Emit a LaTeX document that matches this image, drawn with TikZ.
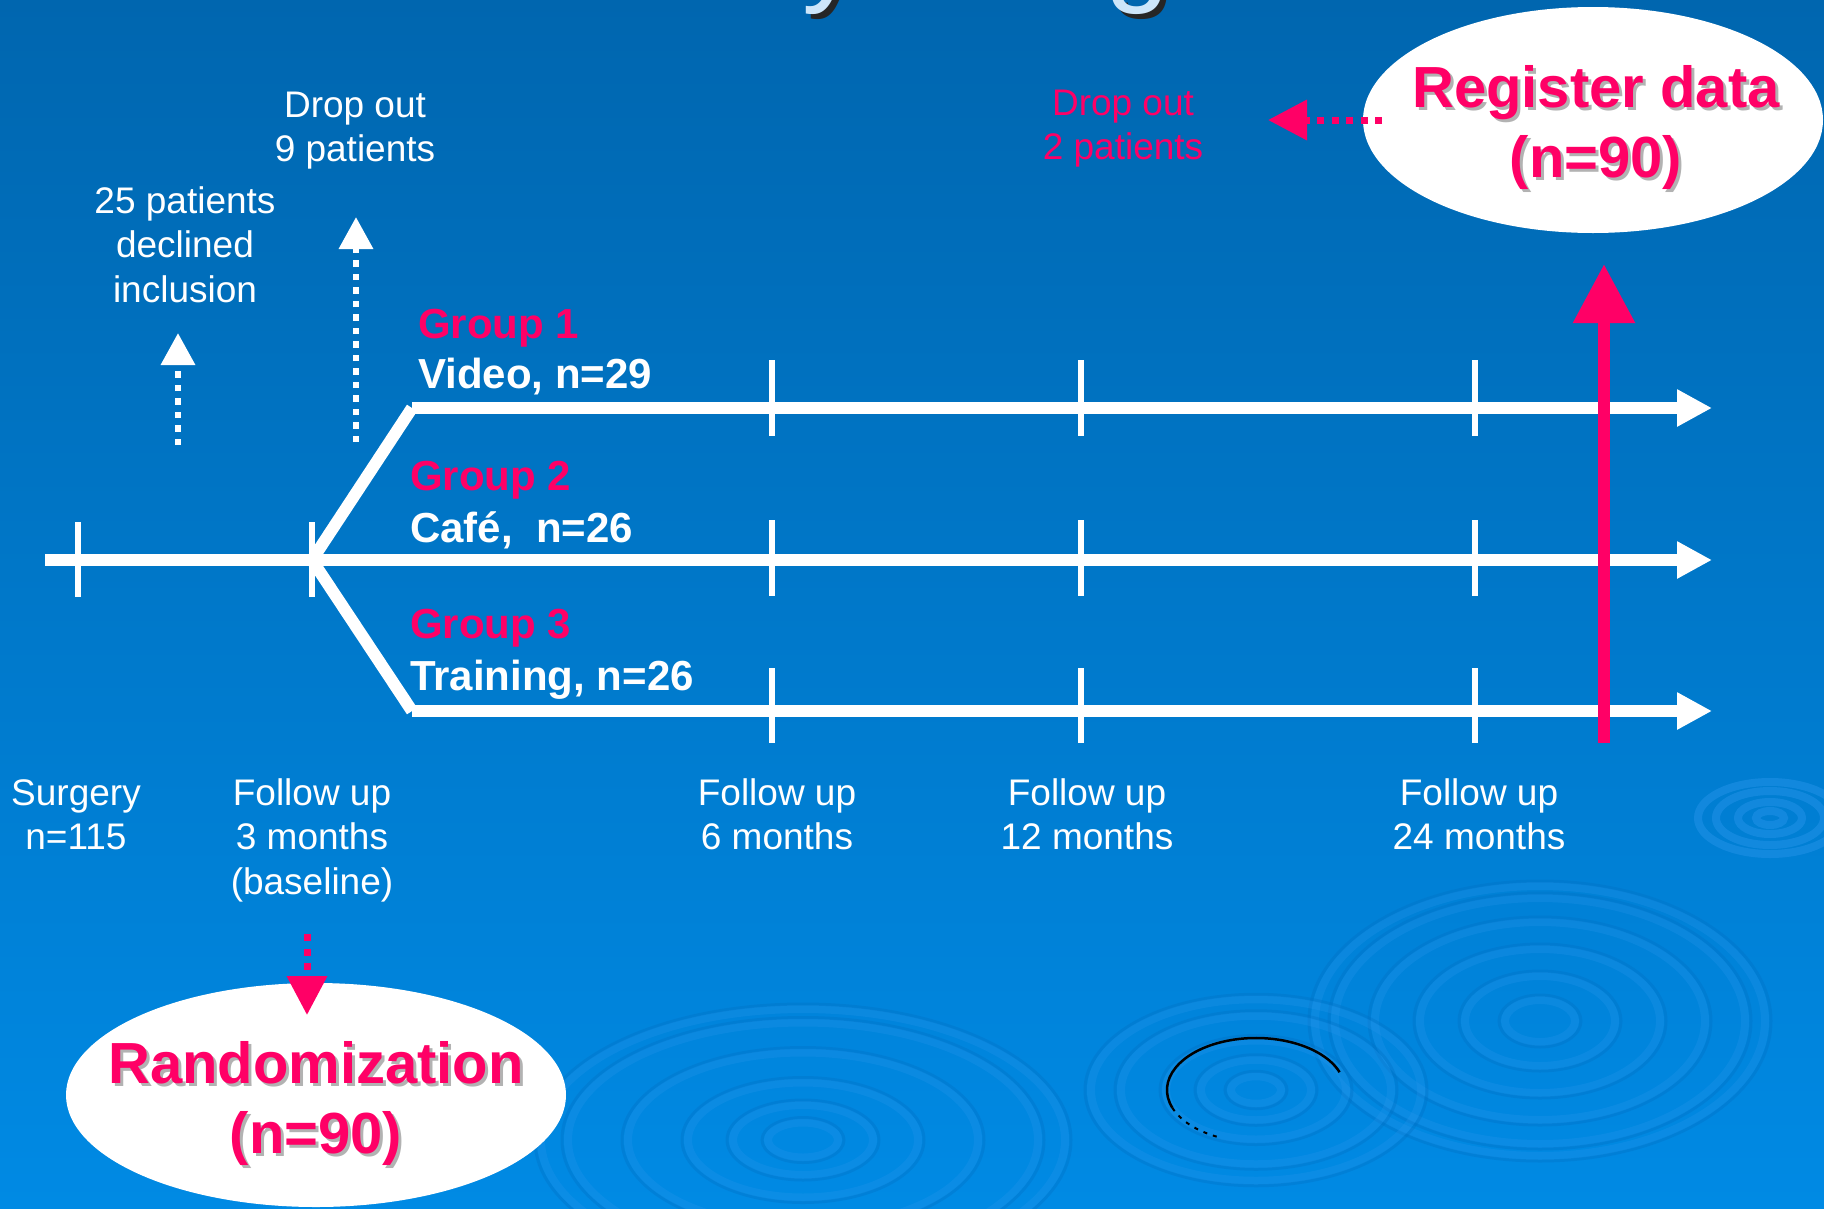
\documentclass[tikz,border=0pt]{standalone}
\usepackage{fontspec}
\setmainfont{Liberation Sans}
\usetikzlibrary{arrows.meta,shapes.geometric,calc}
\definecolor{bgtop}{HTML}{0066AF}
\definecolor{bgmid}{HTML}{0068B3}
\definecolor{bgbot}{HTML}{008AE4}
\definecolor{pinkred}{HTML}{FF0066}
\definecolor{titleblue}{HTML}{CDE6FA}
\definecolor{ripple}{HTML}{2A96EC}
\definecolor{rippledark}{HTML}{0070C4}
\newcommand{\mlines}[1]{\begin{tabular}[t]{@{}c@{}}#1\end{tabular}}
\begin{document}
\begin{tikzpicture}[x=1pt,y=-1pt,
  wline/.style={draw=white, line width=12pt},
  tickmark/.style={draw=white, line width=6pt},
  wtext/.style={text=white, font=\fontsize{37}{44.5}\selectfont, inner sep=0pt, anchor=base},
  grouplbl/.style={text=pinkred, font=\bfseries\fontsize{42}{50}\selectfont, inner sep=0pt, anchor=base west},
  armlbl/.style={text=white, font=\bfseries\fontsize{42}{50}\selectfont, inner sep=0pt, anchor=base west},
  bigred/.style={text=pinkred, font=\bfseries\fontsize{58}{70}\selectfont, inner sep=0pt, anchor=base},
  bigshadow/.style={bigred, text=gray!75, opacity=0.8},
  whitebub/.style={ellipse, fill=white, inner sep=0pt},
  ringline/.style={draw=ripple, opacity=0.28, line width=8pt},
  ringdark/.style={draw=rippledark, opacity=0.35, line width=3pt},
  whead/.style={-{Triangle[length=35pt,width=35pt]}},
  dotw/.style={draw=white, line width=6.5pt, dash pattern=on 6.5pt off 7pt, -{Triangle[length=32pt,width=33pt]}},
  dotr/.style={draw=pinkred, line width=7pt, dash pattern=on 7pt off 7.5pt, -{Triangle[length=39pt,width=39pt]}},
]
\useasboundingbox (0,0) rectangle (1824,1208);
\shade[top color=bgtop, middle color=bgmid, bottom color=bgbot] (0,0) rectangle (1824,1208);

% ripple decorations
\foreach \r in {35,75,120,165,205,225} {\draw[ringline] (1540,1021) ellipse[x radius=\r, y radius=0.6*\r];
  \draw[ringdark] (1540,1021) ellipse[x radius=\r+6, y radius=0.6*\r+5];}
\foreach \r in {35,70,115,175,235,262} {\draw[ringline] (803,1140) ellipse[x radius=\r, y radius=0.5*\r];
  \draw[ringdark] (803,1140) ellipse[x radius=\r+6, y radius=0.5*\r+5];}
\foreach \r in {25,55,90,135,165} {\draw[ringline] (1256,1090) ellipse[x radius=\r, y radius=0.55*\r];
  \draw[ringdark] (1256,1090) ellipse[x radius=\r+6, y radius=0.55*\r+5];}
\foreach \r in {14,32,54,72} {\draw[ringline, opacity=0.45] (1770,818) ellipse[x radius=\r, y radius=0.5*\r];}
\draw[black, line width=2.5pt] (1256,1090) ++(-20:89 and 52) arc[start angle=-20, end angle=-200, x radius=89, y radius=52];
\draw[black, line width=2pt, dash pattern=on 4pt off 6pt] (1256,1090) ++(-200:89 and 52) arc[start angle=-200, end angle=-245, x radius=89, y radius=52];

% title (cut off at the top)
\node[font=\fontsize{116}{116}\selectfont, text=black!85, anchor=base, inner sep=0pt] (titlesh) at (904,-5) {Study design};
\node[font=\fontsize{116}{116}\selectfont, text=titleblue, anchor=base, inner sep=0pt] (title) at (899,-10) {Study design};

% timelines
\coordinate (mstart) at (45,560);
\coordinate (mend) at (1712,560);
\coordinate (apex) at (312,560);
\coordinate (topL) at (412,408);
\coordinate (topR) at (1712,408);
\coordinate (botL) at (412,711);
\coordinate (botR) at (1712,711);
\draw[wline, whead] (mstart) -- (mend);
\draw[wline, whead] (topL) -- (topR);
\draw[wline, whead] (botL) -- (botR);
\draw[wline] (apex) -- (topL);
\draw[wline] (apex) -- (botL);

% ticks
\draw[tickmark] (78,522) -- (78,597);
\draw[tickmark] (312,522) -- (312,597);
\foreach \x in {772,1081,1475} {
  \draw[tickmark] (\x,360) -- (\x,436);
  \draw[tickmark] (\x,520) -- (\x,596);
  \draw[tickmark] (\x,668) -- (\x,743);
}

% dotted white arrows
\coordinate (d1s) at (178,445);
\coordinate (d1e) at (178,333);
\coordinate (d2s) at (356,442);
\coordinate (d2e) at (356,217);
\draw[dotw] (d1s) -- (d1e);
\draw[dotw] (d2s) -- (d2e);

% white texts
\node[wtext] (declined) at (185,213) {\mlines{25 patients\\declined\\inclusion}};
\node[wtext] (drop9) at (355,117) {\mlines{Drop out\\9 patients}};
\node[wtext, text=pinkred] (drop2) at (1123,115) {\mlines{Drop out\\2 patients}};
\node[wtext] (surg) at (76,805) {\mlines{Surgery\\n=115}};
\node[wtext] (fu3) at (312,805) {\mlines{Follow up\\3 months\\(baseline)}};
\node[wtext] (fu6) at (777,805) {\mlines{Follow up\\6 months}};
\node[wtext] (fu12) at (1087,805) {\mlines{Follow up\\12 months}};
\node[wtext] (fu24) at (1479,805) {\mlines{Follow up\\24 months}};

% group labels
\node[grouplbl] (g1) at (418,338) {Group 1};
\node[armlbl] (v1) at (418,388) {Video, n=29};
\node[grouplbl] (g2) at (410,490) {Group 2};
\node[armlbl] (c2) at (410,542) {Café,\ \ n=26};
\node[grouplbl] (g3) at (410,638) {Group 3};
\node[armlbl] (t3) at (410,690) {Training, n=26};

% register data bubble
\node[whitebub, minimum width=460pt, minimum height=226pt] (reg) at (1593,120) {};
\node[bigshadow] (regsh) at (1599,110) {\mlines{Register data\\(n=90)}};
\node[bigred] (regtext) at (1596,107) {\mlines{Register data\\(n=90)}};
\coordinate (rds) at (1382,120);
\coordinate (rde) at (1268,120);
\draw[dotr] (rds) -- (rde);
\coordinate (rvs) at (1604,743);
\coordinate (rve) at (1604,264);
\draw[draw=pinkred, line width=12pt, -{Triangle[length=59pt,width=59pt]}] (rvs) -- (rve);

% randomization bubble
\node[whitebub, minimum width=500pt, minimum height=224pt] (rand) at (316,1095) {};
\node[bigshadow] (randsh) at (319,1086) {\mlines{Randomization\\(n=90)}};
\node[bigred] (randtext) at (316,1083) {\mlines{Randomization\\(n=90)}};
\coordinate (rrs) at (307,934);
\coordinate (rre) at (307,1015);
\draw[dotr] (rrs) -- (rre);
\end{tikzpicture}
\end{document}
